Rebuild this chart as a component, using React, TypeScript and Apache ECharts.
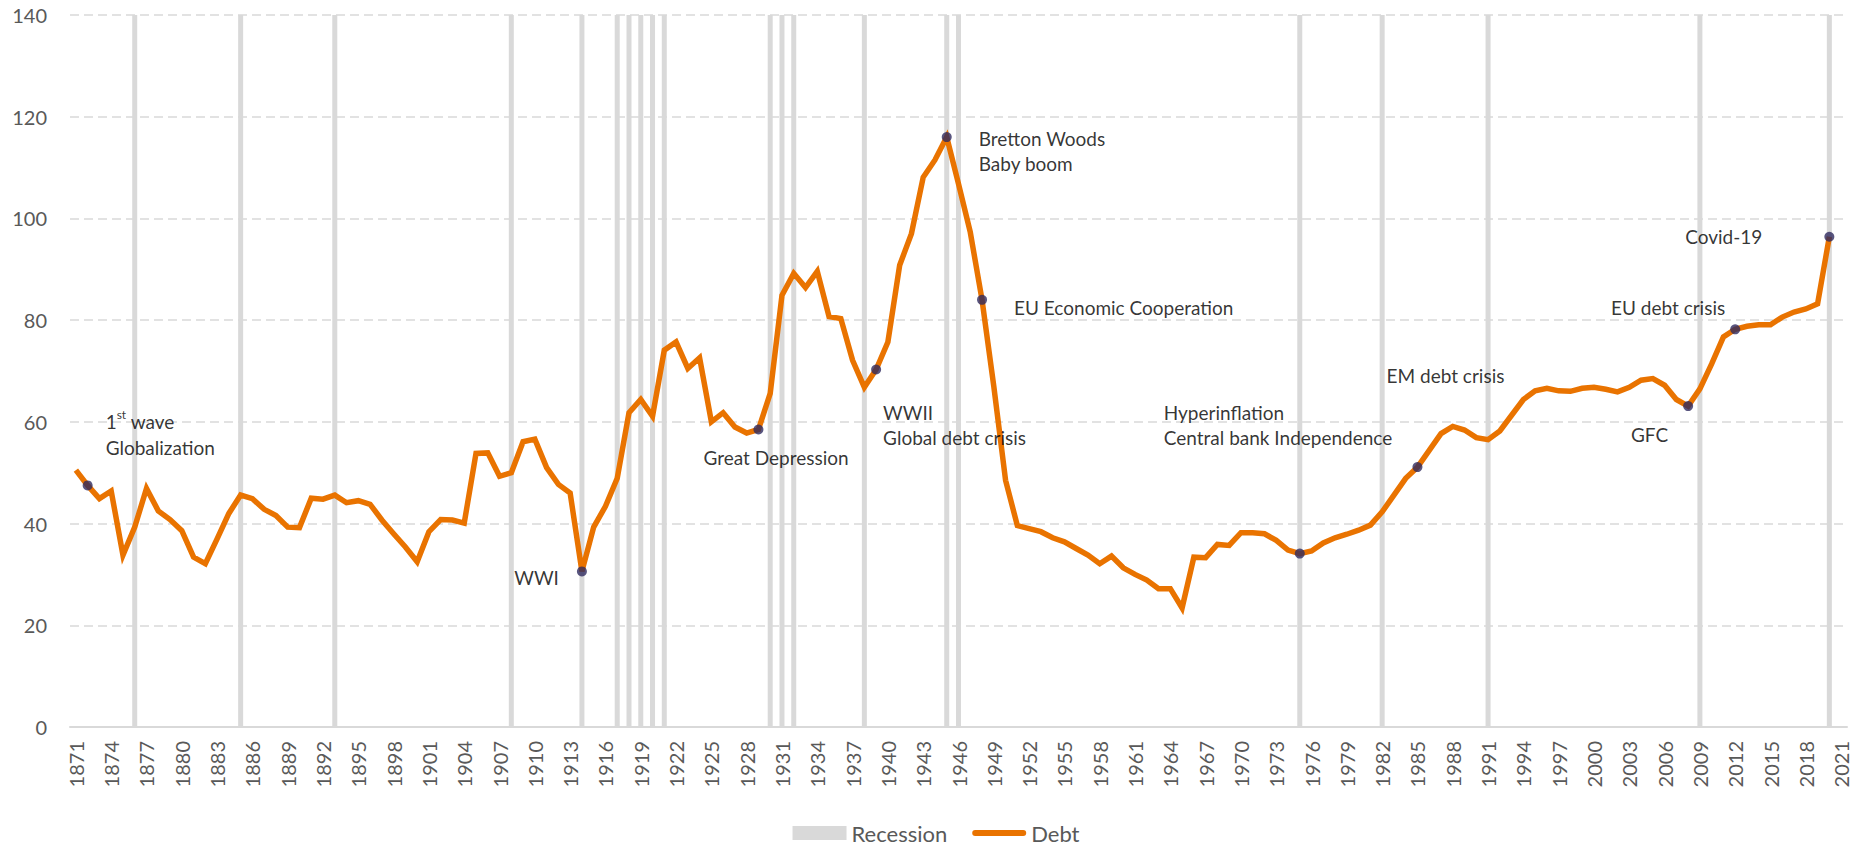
import React, { useEffect, useRef } from "react";
import * as echarts from "echarts";

const firstYear = 1871;
const lastYear = 2021;
const years: string[] = [];
for (let y = firstYear; y <= lastYear; y++) years.push(String(y));

const yTicks = { min: 0, max: 140, interval: 20 };

// Debt values 1871..2020 (2021 has no value)
const debt: (number | null)[] = [
  50.5, 47.5, 44.9, 46.4, 33.8, 39.3, 46.9, 42.5, 40.8, 38.6,
  33.4, 32.1, 37.0, 42.0, 45.6, 44.9, 42.8, 41.6, 39.3, 39.2,
  45.0, 44.8, 45.6, 44.1, 44.5, 43.8, 40.7, 38.0, 35.4, 32.5,
  38.4, 40.8, 40.7, 40.1, 53.8, 53.9, 49.3, 50.0, 56.1, 56.6,
  51.0, 47.7, 46.0, 30.6, 39.3, 43.4, 48.9, 61.8, 64.4, 61.1,
  74.1, 75.7, 70.5, 72.6, 60.0, 61.8, 59.0, 57.8, 58.5, 65.6,
  84.9, 89.2, 86.4, 89.6, 80.7, 80.3, 72.1, 66.8, 70.3, 75.7,
  90.8, 97.0, 108.1, 111.5, 116.0, 106.8, 97.3, 84.0, 67.0, 48.5,
  39.6, 39.0, 38.4, 37.2, 36.4, 35.1, 33.8, 32.1, 33.6, 31.3,
  30.0, 28.9, 27.2, 27.2, 23.4, 33.4, 33.3, 35.9, 35.7, 38.2,
  38.2, 38.0, 36.7, 34.8, 34.1, 34.6, 36.2, 37.2, 37.9, 38.7,
  39.7, 42.3, 45.6, 48.9, 51.1, 54.4, 57.7, 59.1, 58.4, 56.9,
  56.5, 58.2, 61.3, 64.4, 66.1, 66.6, 66.1, 66.0, 66.6, 66.8,
  66.4, 65.9, 66.8, 68.2, 68.5, 67.2, 64.4, 63.1, 66.5, 71.4,
  76.7, 78.2, 78.8, 79.1, 79.1, 80.6, 81.6, 82.2, 83.2, 96.4,
  null,
];

const recessionYears = [
  1876, 1885, 1893, 1908, 1914, 1917, 1918, 1919, 1920, 1921,
  1930, 1931, 1932, 1938, 1945, 1946, 1975, 1982, 1991, 2009, 2020,
];
const recessionValue = 140;

const eventYears = [1872, 1914, 1929, 1939, 1945, 1948, 1975, 1985, 2008, 2012, 2020];
const eventLabels = [
  "{t|1}{s|st}{t| wave}\n{t|Globalization}",
  "WWI",
  "Great Depression",
  "WWII\nGlobal debt crisis",
  "Bretton Woods\nBaby boom",
  "EU Economic Cooperation",
  "Hyperinflation\nCentral bank Independence",
  "EM debt crisis",
  "GFC",
  "EU debt crisis",
  "Covid-19",
];

// label placement (styling only)
const labelPlacement: Record<number, { offset: [number, number]; align: string }> = {
  1872: { offset: [18, -51], align: "left" },
  1914: { offset: [-23, 6], align: "right" },
  1929: { offset: [-55, 28], align: "left" },
  1939: { offset: [7, 56], align: "left" },
  1945: { offset: [32, 14], align: "left" },
  1948: { offset: [32, 8], align: "left" },
  1975: { offset: [-136, -129], align: "left" },
  1985: { offset: [28, -92], align: "center" },
  2008: { offset: [-20, 28], align: "right" },
  2012: { offset: [-10, -22], align: "right" },
  2020: { offset: [-67, 0], align: "right" },
};

const FONT = "Lato, 'Noto Sans', sans-serif";
const ANN_SIZE = 19;
const ORANGE = "#E97300";

export default function App() {
  const ref = useRef<HTMLDivElement>(null);

  useEffect(() => {
    document.body.style.margin = "0";
    if (!ref.current) return;
    const chart = echarts.init(ref.current, undefined, { renderer: "svg" });

    const recessionData = years.map((y) =>
      recessionYears.includes(Number(y)) ? recessionValue : null
    );

    const eventData = eventYears.map((yr, i) => {
      const idx = years.indexOf(String(yr));
      const p = labelPlacement[yr];
      return {
        value: [idx, debt[idx]],
        label: {
          show: true,
          formatter: eventLabels[i],
          position: "inside",
          offset: p.offset,
          align: p.align,
          verticalAlign: "middle",
          color: "#000",
          fontFamily: FONT,
          fontSize: ANN_SIZE,
          lineHeight: 25,
          rich: {
            t: { fontFamily: FONT, fontSize: ANN_SIZE, color: "#000", lineHeight: 26 },
            s: {
              fontFamily: FONT,
              fontSize: 12,
              color: "#000",
              lineHeight: 26,
              verticalAlign: "top",
              padding: [0, 0, 8, 0],
            },
          },
        },
      };
    });

    chart.setOption({
      animation: false,
      backgroundColor: "#fff",
      textStyle: { fontFamily: FONT },
      grid: { left: 70, right: 25, top: 15, bottom: 125, containLabel: false },
      legend: {
        bottom: 3,
        left: "center",
        itemWidth: 54,
        itemHeight: 14,
        itemGap: 25,
        textStyle: { fontSize: 22, color: "#595959", fontFamily: FONT },
        data: [
          { name: "Recession", icon: "rect" },
          {
            name: "Debt",
            icon: "path://M3,0 L51,0 A3,3 0 0 1 51,6 L3,6 A3,3 0 0 1 3,0 Z",
            itemStyle: { color: ORANGE },
          },
        ],
      },
      xAxis: {
        type: "category",
        data: years,
        boundaryGap: true,
        axisLine: { lineStyle: { color: "#d9d9d9", width: 2 } },
        axisTick: { show: false },
        axisLabel: {
          interval: 2,
          rotate: 90,
          color: "#595959",
          fontSize: 20,
          fontFamily: FONT,
          margin: 14,
        },
        splitLine: { show: false },
      },
      yAxis: {
        type: "value",
        min: yTicks.min,
        max: yTicks.max,
        interval: yTicks.interval,
        axisLine: { show: false },
        axisTick: { show: false },
        axisLabel: { color: "#595959", fontSize: 20, fontFamily: FONT, margin: 23 },
        splitLine: {
          lineStyle: { color: "#d9d9d9", width: 1.5, type: [9, 5] },
        },
      },
      series: [
        {
          name: "Recession",
          type: "bar",
          data: recessionData,
          barWidth: 5,
          itemStyle: { color: "#d9d9d9" },
          z: 1,
        },
        {
          name: "Debt",
          type: "line",
          data: debt,
          symbol: "none",
          showSymbol: false,
          lineStyle: { color: ORANGE, width: 5.5, join: "miter" },
          itemStyle: { color: ORANGE },
          z: 3,
        },
        {
          name: "events",
          type: "scatter",
          data: eventData,
          symbolSize: 10,
          itemStyle: { color: "#2F2A5F" },
          z: 4,
        },
      ],
    });

    return () => chart.dispose();
  }, []);

  return (
    <div
      ref={ref}
      style={{ position: "absolute", left: 0, top: 0, width: 1872, height: 852 }}
    />
  );
}
